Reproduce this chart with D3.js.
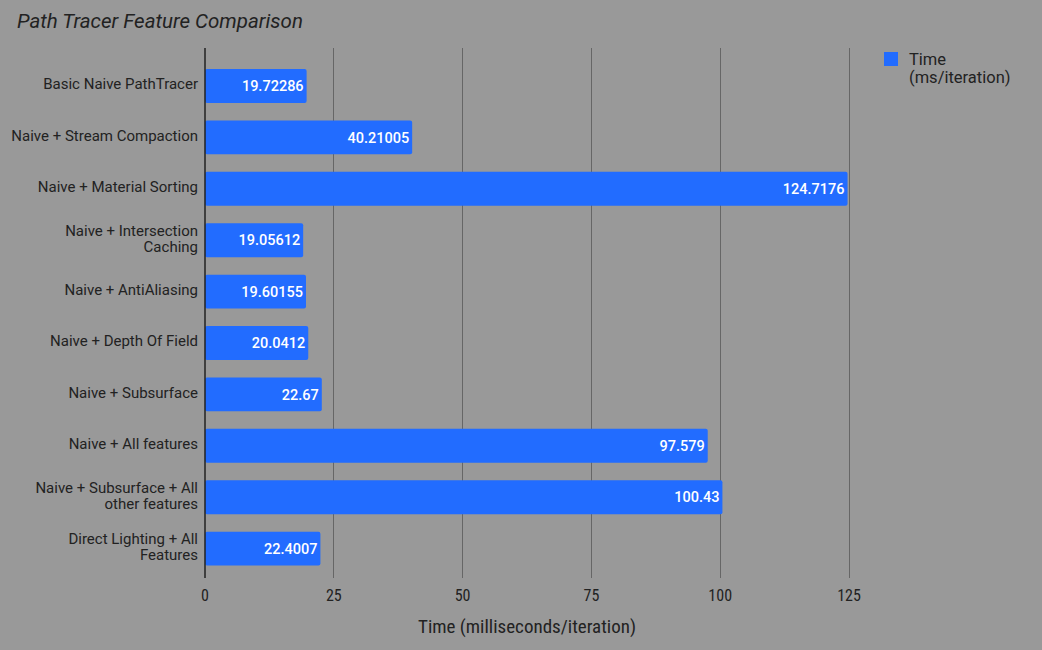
<!DOCTYPE html>
<html><head><meta charset="utf-8">
<script src="https://cdn.jsdelivr.net/npm/d3@7"></script>
<style>body{margin:0;background:#999999;}svg{display:block;}</style>
</head><body>
<svg id="c" width="1042" height="650"></svg>
<script>
const categories = [
  ["Basic Naive PathTracer"],
  ["Naive + Stream Compaction"],
  ["Naive + Material Sorting"],
  ["Naive + Intersection", "Caching"],
  ["Naive + AntiAliasing"],
  ["Naive + Depth Of Field"],
  ["Naive + Subsurface"],
  ["Naive + All features"],
  ["Naive + Subsurface + All", "other features"],
  ["Direct Lighting + All", "Features"]
];
const values = [19.72286, 40.21005, 124.7176, 19.05612, 19.60155, 20.0412, 22.67, 97.579, 100.43, 22.4007];
const valueLabels = ["19.72286","40.21005","124.7176","19.05612","19.60155","20.0412","22.67","97.579","100.43","22.4007"];
const xTicks = [0, 25, 50, 75, 100, 125];
const title = "Path Tracer Feature Comparison";
const xTitle = "Time (milliseconds/iteration)";
const legendLines = ["Time", "(ms/iteration)"];

const svg = d3.select("#c");
const W = 1042, H = 650;
svg.append("rect").attr("width", W).attr("height", H).attr("fill", "#999999");

const x = d3.scaleLinear().domain([0, 125]).range([205, 849]);
const y = d3.scaleBand().domain(d3.range(categories.length)).range([60.3, 574.3]).paddingInner(0.34).paddingOuter(0.17);
const gridTop = 48, gridBot = 578;
const blue = "#226cff";
const condensed = "'Roboto Condensed','Liberation Sans Narrow','Roboto',sans-serif";

// gridlines
svg.append("g").selectAll("line").data(xTicks.slice(1)).join("line")
  .attr("x1", d => x(d)).attr("x2", d => x(d))
  .attr("y1", gridTop).attr("y2", gridBot)
  .attr("stroke", "#666666").attr("stroke-width", 1).attr("shape-rendering", "crispEdges");

// bars
svg.append("g").selectAll("rect").data(values).join("rect")
  .attr("x", x(0)).attr("y", (d, i) => y(i))
  .attr("width", d => x(d) - x(0)).attr("height", y.bandwidth())
  .attr("rx", 2).attr("fill", blue);

// value labels
svg.append("g").selectAll("text").data(values).join("text")
  .attr("x", d => x(d) - 3).attr("y", (d, i) => y(i) + y.bandwidth() / 2)
  .attr("dy", "0.36em").attr("text-anchor", "end")
  .attr("font-family", "Roboto, sans-serif").attr("font-size", 14.5).attr("font-weight", 500)
  .attr("fill", "#ffffff").text((d, i) => valueLabels[i]);

// baseline axis
svg.append("line").attr("x1", x(0)).attr("x2", x(0)).attr("y1", gridTop).attr("y2", gridBot)
  .attr("stroke", "#222222").attr("stroke-width", 1.5);

// category labels
const cat = svg.append("g").selectAll("text").data(categories).join("text")
  .attr("text-anchor", "end").attr("font-family", "Roboto, sans-serif").attr("font-size", 15)
  .attr("fill", "#222222")
  .attr("transform", (d, i) => `translate(198,${y(i) + y.bandwidth() / 2 - 2})`);
cat.each(function(lines) {
  const t = d3.select(this);
  const n = lines.length;
  lines.forEach((l, k) => {
    t.append("tspan").attr("x", 0).attr("y", (k - (n - 1) / 2) * 16).attr("dy", "0.36em").text(l);
  });
});

// x tick labels
svg.append("g").selectAll("text").data(xTicks).join("text")
  .attr("x", d => x(d)).attr("y", 601).attr("text-anchor", "middle")
  .attr("font-family", condensed).attr("font-size", 16).attr("fill", "#222222")
  .text(d => d3.format("d")(d));

// x axis title
svg.append("text").attr("x", 527).attr("y", 633).attr("text-anchor", "middle")
  .attr("font-family", condensed).attr("font-size", 19).attr("fill", "#222222").text(xTitle);

// title
svg.append("text").attr("x", 17).attr("y", 28).attr("font-family", "Roboto, sans-serif")
  .attr("font-style", "italic").attr("font-size", 20.5).attr("fill", "#222222").text(title);

// legend
svg.append("rect").attr("x", 884).attr("y", 52).attr("width", 14).attr("height", 14).attr("fill", blue);
svg.append("g").selectAll("text").data(legendLines).join("text")
  .attr("x", 909).attr("y", (d, i) => 65 + i * 18)
  .attr("font-family", "Roboto, sans-serif").attr("font-size", 16.5).attr("fill", "#222222").text(d => d);
</script>
</body></html>
